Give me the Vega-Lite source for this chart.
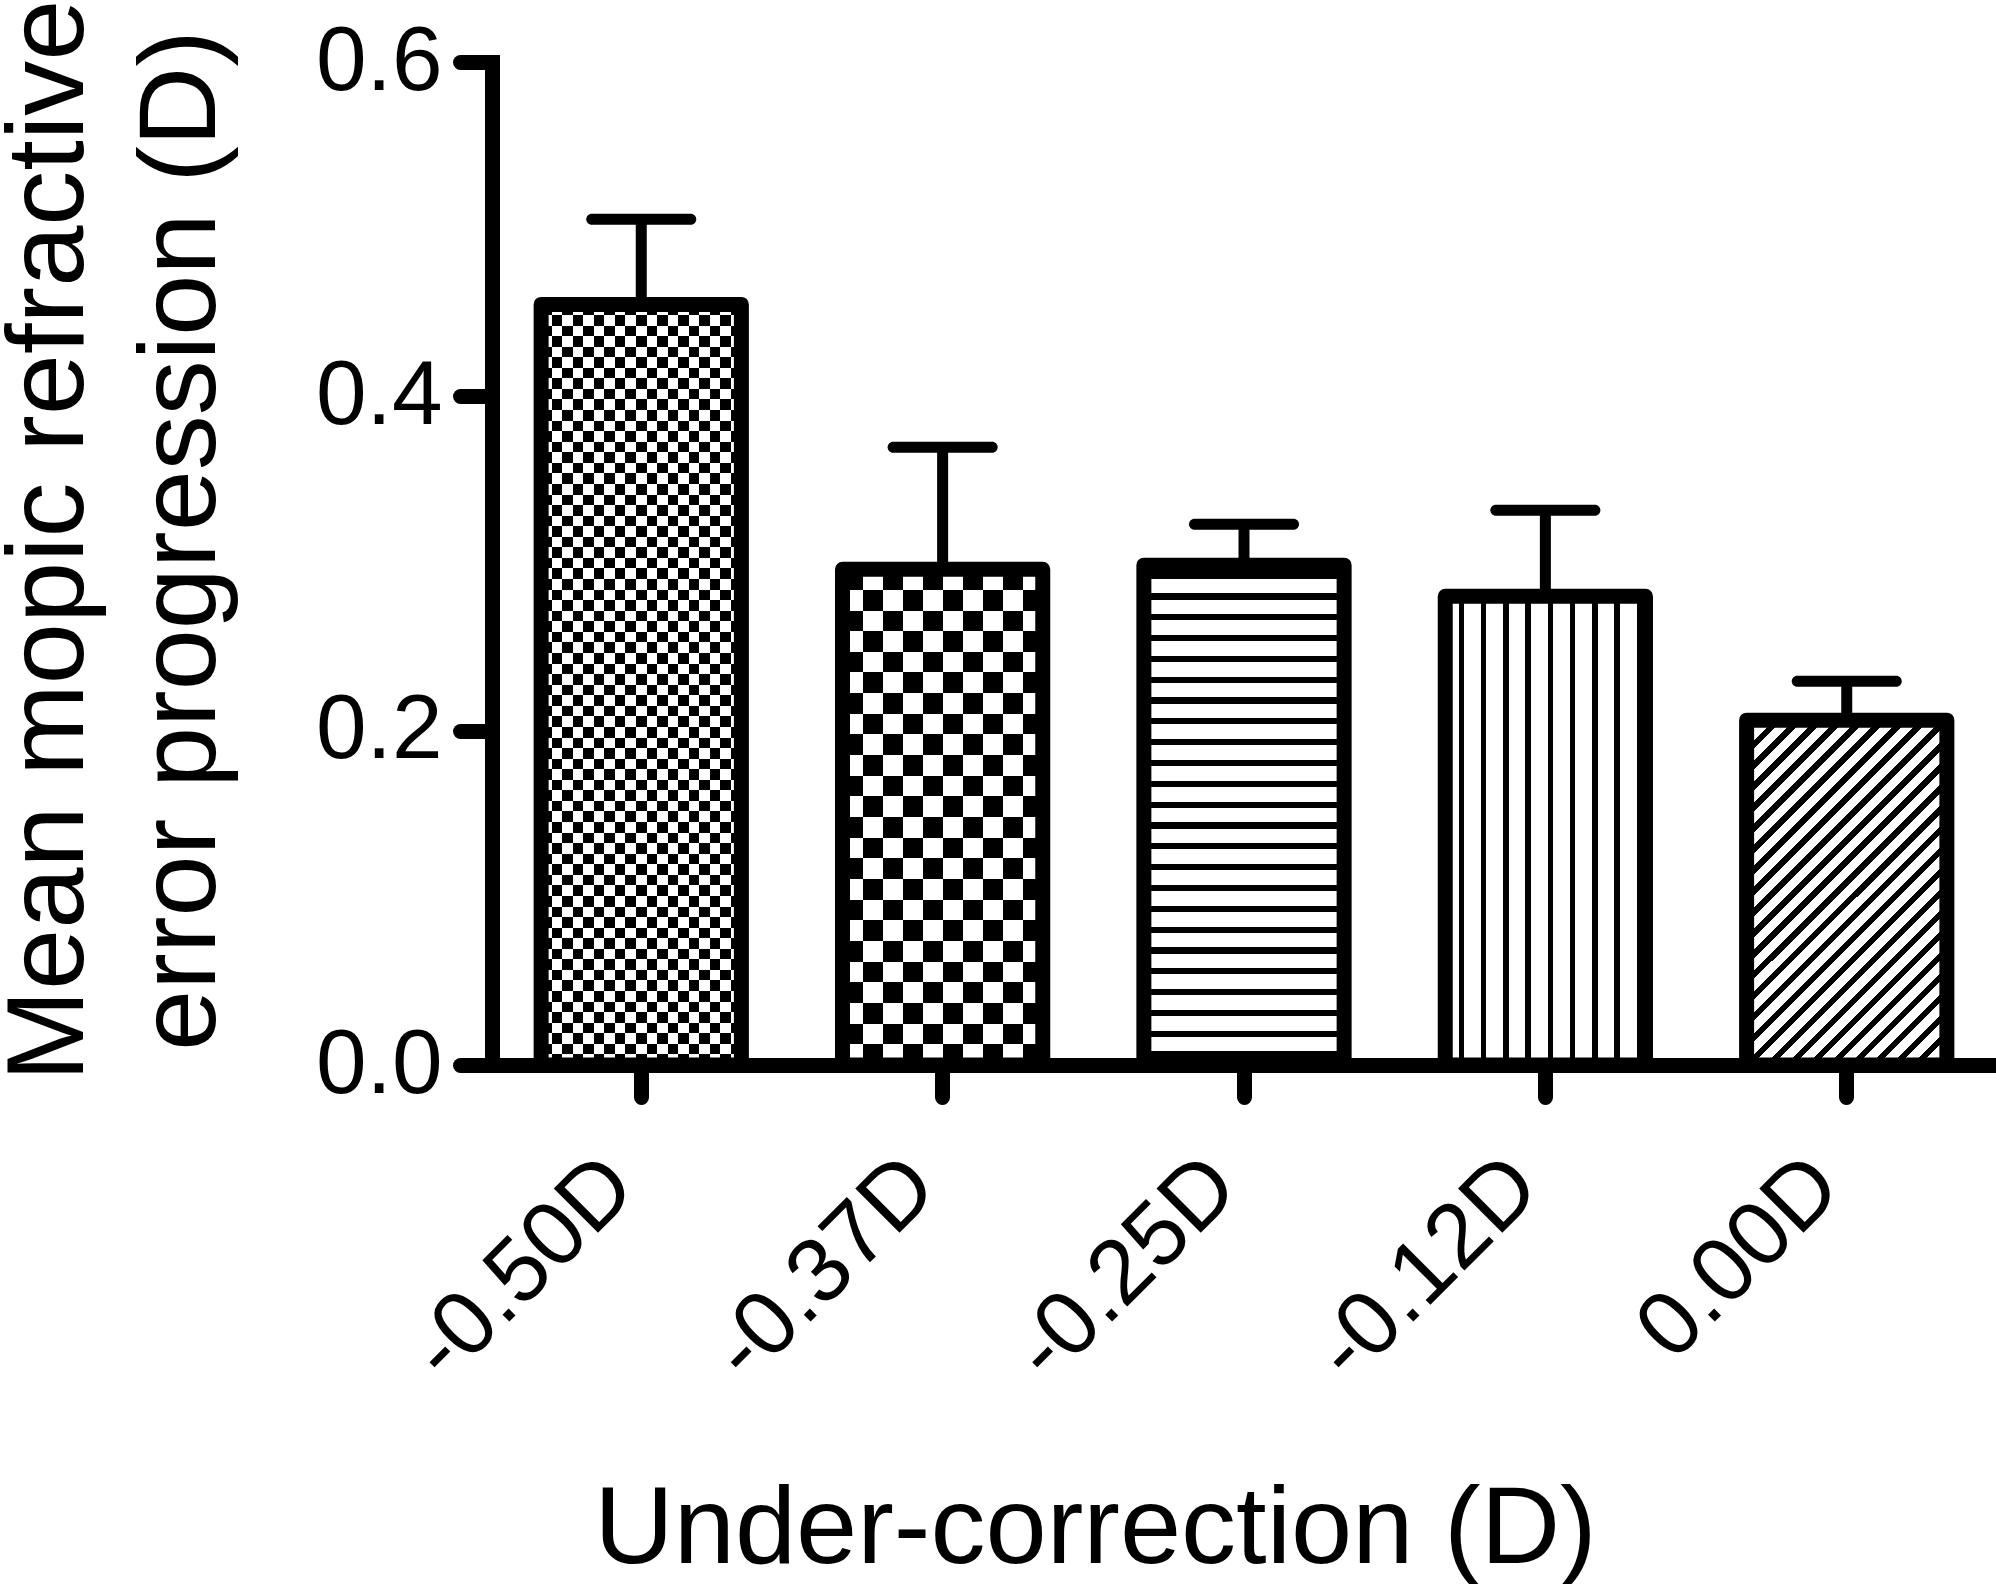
{
  "$schema": "https://vega.github.io/schema/vega-lite/v6.json",
  "width": 1504,
  "height": 1003,
  "autosize": {"type": "none"},
  "padding": {"left": 492, "top": 62, "right": 0, "bottom": 519},
  "background": "white",
  "config": {"view": {"stroke": null}, "font": "Liberation Sans"},
  "data": {
    "values": [
      {"k": "-0.50D", "mean": 0.455, "upper": 0.506},
      {"k": "-0.37D", "mean": 0.2966, "upper": 0.3695},
      {"k": "-0.25D", "mean": 0.299, "upper": 0.3235},
      {"k": "-0.12D", "mean": 0.2804, "upper": 0.3318},
      {"k": "0.00D", "mean": 0.2063, "upper": 0.2296}
    ]
  },
  "encoding": {
    "x": {
      "field": "k",
      "type": "nominal",
      "sort": null,
      "scale": {
        "domain": ["-0.50D", "-0.37D", "-0.25D", "-0.12D", "0.00D"],
        "paddingInner": 0.3355,
        "paddingOuter": 0.163
      },
      "axis": {
        "title": "Under-correction (D)",
        "labelAngle": -45,
        "labelAlign": "right",
        "labelBaseline": "middle",
        "labelOffset": -21,
        "labelPadding": 75,
        "labelLimit": 0,
        "labelOverlap": false,
        "domainColor": "black",
        "domainWidth": 15,
        "tickColor": "black",
        "tickWidth": 15,
        "tickSize": 32,
        "tickCap": "round",
        "labelFont": "Liberation Sans",
        "labelFontSize": 91,
        "labelColor": "black",
        "titleFont": "Liberation Sans",
        "titleFontSize": 110,
        "titleFontWeight": "normal",
        "titleColor": "black",
        "titleX": 603,
        "titleY": 497,
        "titleAlign": "center",
        "titleBaseline": "alphabetic"
      }
    },
    "y": {
      "field": "mean",
      "type": "quantitative",
      "scale": {"domain": [0, 0.6]},
      "axis": {
        "title": ["Mean mopic refractive", "error progression (D)"],
        "values": [0, 0.2, 0.4, 0.6],
        "format": ".1f",
        "grid": false,
        "domainColor": "black",
        "domainWidth": 15,
        "domainCap": "square",
        "tickColor": "black",
        "tickWidth": 15,
        "tickSize": 32,
        "tickCap": "round",
        "labelFont": "Liberation Sans",
        "labelFontSize": 91,
        "labelColor": "black",
        "labelPadding": 18,
        "labelFlush": false,
        "labelOverlap": false,
        "titleFont": "Liberation Sans",
        "titleFontSize": 110,
        "titleFontWeight": "normal",
        "titleColor": "black",
        "titleAngle": 270,
        "titleAlign": "center",
        "titleBaseline": "alphabetic",
        "titleX": -410,
        "titleY": 478,
        "titleLineHeight": 132,
        "titleLimit": 0
      }
    }
  },
  "layer": [
    {
      "transform": [{"filter": "datum.k === '-0.50D'"}],
      "mark": {
        "type": "bar",
        "fill": {
          "gradient": "linear", "x1": 0, "y1": 0, "x2": 0, "y2": 1,
          "stops": [
            {"offset": 0, "color": "#fff"},
            {"offset": 0.01389, "color": "#fff"}, {"offset": 0.01389, "color": "#000"},
            {"offset": 0.02778, "color": "#000"}, {"offset": 0.02778, "color": "#fff"},
            {"offset": 0.04167, "color": "#fff"}, {"offset": 0.04167, "color": "#000"},
            {"offset": 0.05556, "color": "#000"}, {"offset": 0.05556, "color": "#fff"},
            {"offset": 0.06944, "color": "#fff"}, {"offset": 0.06944, "color": "#000"},
            {"offset": 0.08333, "color": "#000"}, {"offset": 0.08333, "color": "#fff"},
            {"offset": 0.09722, "color": "#fff"}, {"offset": 0.09722, "color": "#000"},
            {"offset": 0.11111, "color": "#000"}, {"offset": 0.11111, "color": "#fff"},
            {"offset": 0.125, "color": "#fff"}, {"offset": 0.125, "color": "#000"},
            {"offset": 0.13889, "color": "#000"}, {"offset": 0.13889, "color": "#fff"},
            {"offset": 0.15278, "color": "#fff"}, {"offset": 0.15278, "color": "#000"},
            {"offset": 0.16667, "color": "#000"}, {"offset": 0.16667, "color": "#fff"},
            {"offset": 0.18056, "color": "#fff"}, {"offset": 0.18056, "color": "#000"},
            {"offset": 0.19444, "color": "#000"}, {"offset": 0.19444, "color": "#fff"},
            {"offset": 0.20833, "color": "#fff"}, {"offset": 0.20833, "color": "#000"},
            {"offset": 0.22222, "color": "#000"}, {"offset": 0.22222, "color": "#fff"},
            {"offset": 0.23611, "color": "#fff"}, {"offset": 0.23611, "color": "#000"},
            {"offset": 0.25, "color": "#000"}, {"offset": 0.25, "color": "#fff"},
            {"offset": 0.26389, "color": "#fff"}, {"offset": 0.26389, "color": "#000"},
            {"offset": 0.27778, "color": "#000"}, {"offset": 0.27778, "color": "#fff"},
            {"offset": 0.29167, "color": "#fff"}, {"offset": 0.29167, "color": "#000"},
            {"offset": 0.30556, "color": "#000"}, {"offset": 0.30556, "color": "#fff"},
            {"offset": 0.31944, "color": "#fff"}, {"offset": 0.31944, "color": "#000"},
            {"offset": 0.33333, "color": "#000"}, {"offset": 0.33333, "color": "#fff"},
            {"offset": 0.34722, "color": "#fff"}, {"offset": 0.34722, "color": "#000"},
            {"offset": 0.36111, "color": "#000"}, {"offset": 0.36111, "color": "#fff"},
            {"offset": 0.375, "color": "#fff"}, {"offset": 0.375, "color": "#000"},
            {"offset": 0.38889, "color": "#000"}, {"offset": 0.38889, "color": "#fff"},
            {"offset": 0.40278, "color": "#fff"}, {"offset": 0.40278, "color": "#000"},
            {"offset": 0.41667, "color": "#000"}, {"offset": 0.41667, "color": "#fff"},
            {"offset": 0.43056, "color": "#fff"}, {"offset": 0.43056, "color": "#000"},
            {"offset": 0.44444, "color": "#000"}, {"offset": 0.44444, "color": "#fff"},
            {"offset": 0.45833, "color": "#fff"}, {"offset": 0.45833, "color": "#000"},
            {"offset": 0.47222, "color": "#000"}, {"offset": 0.47222, "color": "#fff"},
            {"offset": 0.48611, "color": "#fff"}, {"offset": 0.48611, "color": "#000"},
            {"offset": 0.5, "color": "#000"}, {"offset": 0.5, "color": "#fff"},
            {"offset": 0.51389, "color": "#fff"}, {"offset": 0.51389, "color": "#000"},
            {"offset": 0.52778, "color": "#000"}, {"offset": 0.52778, "color": "#fff"},
            {"offset": 0.54167, "color": "#fff"}, {"offset": 0.54167, "color": "#000"},
            {"offset": 0.55556, "color": "#000"}, {"offset": 0.55556, "color": "#fff"},
            {"offset": 0.56944, "color": "#fff"}, {"offset": 0.56944, "color": "#000"},
            {"offset": 0.58333, "color": "#000"}, {"offset": 0.58333, "color": "#fff"},
            {"offset": 0.59722, "color": "#fff"}, {"offset": 0.59722, "color": "#000"},
            {"offset": 0.61111, "color": "#000"}, {"offset": 0.61111, "color": "#fff"},
            {"offset": 0.625, "color": "#fff"}, {"offset": 0.625, "color": "#000"},
            {"offset": 0.63889, "color": "#000"}, {"offset": 0.63889, "color": "#fff"},
            {"offset": 0.65278, "color": "#fff"}, {"offset": 0.65278, "color": "#000"},
            {"offset": 0.66667, "color": "#000"}, {"offset": 0.66667, "color": "#fff"},
            {"offset": 0.68056, "color": "#fff"}, {"offset": 0.68056, "color": "#000"},
            {"offset": 0.69444, "color": "#000"}, {"offset": 0.69444, "color": "#fff"},
            {"offset": 0.70833, "color": "#fff"}, {"offset": 0.70833, "color": "#000"},
            {"offset": 0.72222, "color": "#000"}, {"offset": 0.72222, "color": "#fff"},
            {"offset": 0.73611, "color": "#fff"}, {"offset": 0.73611, "color": "#000"},
            {"offset": 0.75, "color": "#000"}, {"offset": 0.75, "color": "#fff"},
            {"offset": 0.76389, "color": "#fff"}, {"offset": 0.76389, "color": "#000"},
            {"offset": 0.77778, "color": "#000"}, {"offset": 0.77778, "color": "#fff"},
            {"offset": 0.79167, "color": "#fff"}, {"offset": 0.79167, "color": "#000"},
            {"offset": 0.80556, "color": "#000"}, {"offset": 0.80556, "color": "#fff"},
            {"offset": 0.81944, "color": "#fff"}, {"offset": 0.81944, "color": "#000"},
            {"offset": 0.83333, "color": "#000"}, {"offset": 0.83333, "color": "#fff"},
            {"offset": 0.84722, "color": "#fff"}, {"offset": 0.84722, "color": "#000"},
            {"offset": 0.86111, "color": "#000"}, {"offset": 0.86111, "color": "#fff"},
            {"offset": 0.875, "color": "#fff"}, {"offset": 0.875, "color": "#000"},
            {"offset": 0.88889, "color": "#000"}, {"offset": 0.88889, "color": "#fff"},
            {"offset": 0.90278, "color": "#fff"}, {"offset": 0.90278, "color": "#000"},
            {"offset": 0.91667, "color": "#000"}, {"offset": 0.91667, "color": "#fff"},
            {"offset": 0.93056, "color": "#fff"}, {"offset": 0.93056, "color": "#000"},
            {"offset": 0.94444, "color": "#000"}, {"offset": 0.94444, "color": "#fff"},
            {"offset": 0.95833, "color": "#fff"}, {"offset": 0.95833, "color": "#000"},
            {"offset": 0.97222, "color": "#000"}, {"offset": 0.97222, "color": "#fff"},
            {"offset": 0.98611, "color": "#fff"}, {"offset": 0.98611, "color": "#000"},
            {"offset": 1, "color": "#000"}
          ]
        }
      }
    },
    {
      "transform": [{"filter": "datum.k === '-0.50D'"}],
      "mark": {
        "type": "bar",
        "blend": "difference",
        "fill": {
          "gradient": "linear", "x1": 0, "y1": 0, "x2": 1, "y2": 0,
          "stops": [
            {"offset": 0, "color": "#fff"},
            {"offset": 0.05263, "color": "#fff"}, {"offset": 0.05263, "color": "#000"},
            {"offset": 0.10526, "color": "#000"}, {"offset": 0.10526, "color": "#fff"},
            {"offset": 0.15789, "color": "#fff"}, {"offset": 0.15789, "color": "#000"},
            {"offset": 0.21053, "color": "#000"}, {"offset": 0.21053, "color": "#fff"},
            {"offset": 0.26316, "color": "#fff"}, {"offset": 0.26316, "color": "#000"},
            {"offset": 0.31579, "color": "#000"}, {"offset": 0.31579, "color": "#fff"},
            {"offset": 0.36842, "color": "#fff"}, {"offset": 0.36842, "color": "#000"},
            {"offset": 0.42105, "color": "#000"}, {"offset": 0.42105, "color": "#fff"},
            {"offset": 0.47368, "color": "#fff"}, {"offset": 0.47368, "color": "#000"},
            {"offset": 0.52632, "color": "#000"}, {"offset": 0.52632, "color": "#fff"},
            {"offset": 0.57895, "color": "#fff"}, {"offset": 0.57895, "color": "#000"},
            {"offset": 0.63158, "color": "#000"}, {"offset": 0.63158, "color": "#fff"},
            {"offset": 0.68421, "color": "#fff"}, {"offset": 0.68421, "color": "#000"},
            {"offset": 0.73684, "color": "#000"}, {"offset": 0.73684, "color": "#fff"},
            {"offset": 0.78947, "color": "#fff"}, {"offset": 0.78947, "color": "#000"},
            {"offset": 0.84211, "color": "#000"}, {"offset": 0.84211, "color": "#fff"},
            {"offset": 0.89474, "color": "#fff"}, {"offset": 0.89474, "color": "#000"},
            {"offset": 0.94737, "color": "#000"}, {"offset": 0.94737, "color": "#fff"},
            {"offset": 1, "color": "#fff"}
          ]
        }
      }
    },
    {
      "transform": [{"filter": "datum.k === '-0.37D'"}],
      "mark": {
        "type": "bar",
        "fill": {
          "gradient": "linear", "x1": 0, "y1": 0, "x2": 0, "y2": 1,
          "stops": [
            {"offset": 0, "color": "#fff"},
            {"offset": 0.04167, "color": "#fff"}, {"offset": 0.04167, "color": "#000"},
            {"offset": 0.08333, "color": "#000"}, {"offset": 0.08333, "color": "#fff"},
            {"offset": 0.125, "color": "#fff"}, {"offset": 0.125, "color": "#000"},
            {"offset": 0.16667, "color": "#000"}, {"offset": 0.16667, "color": "#fff"},
            {"offset": 0.20833, "color": "#fff"}, {"offset": 0.20833, "color": "#000"},
            {"offset": 0.25, "color": "#000"}, {"offset": 0.25, "color": "#fff"},
            {"offset": 0.29167, "color": "#fff"}, {"offset": 0.29167, "color": "#000"},
            {"offset": 0.33333, "color": "#000"}, {"offset": 0.33333, "color": "#fff"},
            {"offset": 0.375, "color": "#fff"}, {"offset": 0.375, "color": "#000"},
            {"offset": 0.41667, "color": "#000"}, {"offset": 0.41667, "color": "#fff"},
            {"offset": 0.45833, "color": "#fff"}, {"offset": 0.45833, "color": "#000"},
            {"offset": 0.5, "color": "#000"}, {"offset": 0.5, "color": "#fff"},
            {"offset": 0.54167, "color": "#fff"}, {"offset": 0.54167, "color": "#000"},
            {"offset": 0.58333, "color": "#000"}, {"offset": 0.58333, "color": "#fff"},
            {"offset": 0.625, "color": "#fff"}, {"offset": 0.625, "color": "#000"},
            {"offset": 0.66667, "color": "#000"}, {"offset": 0.66667, "color": "#fff"},
            {"offset": 0.70833, "color": "#fff"}, {"offset": 0.70833, "color": "#000"},
            {"offset": 0.75, "color": "#000"}, {"offset": 0.75, "color": "#fff"},
            {"offset": 0.79167, "color": "#fff"}, {"offset": 0.79167, "color": "#000"},
            {"offset": 0.83333, "color": "#000"}, {"offset": 0.83333, "color": "#fff"},
            {"offset": 0.875, "color": "#fff"}, {"offset": 0.875, "color": "#000"},
            {"offset": 0.91667, "color": "#000"}, {"offset": 0.91667, "color": "#fff"},
            {"offset": 0.95833, "color": "#fff"}, {"offset": 0.95833, "color": "#000"},
            {"offset": 1, "color": "#000"}
          ]
        }
      }
    },
    {
      "transform": [{"filter": "datum.k === '-0.37D'"}],
      "mark": {
        "type": "bar",
        "blend": "difference",
        "fill": {
          "gradient": "linear", "x1": 0, "y1": 0, "x2": 1, "y2": 0,
          "stops": [
            {"offset": 0, "color": "#fff"},
            {"offset": 0.1, "color": "#fff"}, {"offset": 0.1, "color": "#000"},
            {"offset": 0.2, "color": "#000"}, {"offset": 0.2, "color": "#fff"},
            {"offset": 0.3, "color": "#fff"}, {"offset": 0.3, "color": "#000"},
            {"offset": 0.4, "color": "#000"}, {"offset": 0.4, "color": "#fff"},
            {"offset": 0.5, "color": "#fff"}, {"offset": 0.5, "color": "#000"},
            {"offset": 0.6, "color": "#000"}, {"offset": 0.6, "color": "#fff"},
            {"offset": 0.7, "color": "#fff"}, {"offset": 0.7, "color": "#000"},
            {"offset": 0.8, "color": "#000"}, {"offset": 0.8, "color": "#fff"},
            {"offset": 0.9, "color": "#fff"}, {"offset": 0.9, "color": "#000"},
            {"offset": 1, "color": "#000"}
          ]
        }
      }
    },
    {
      "transform": [{"filter": "datum.k === '-0.25D'"}],
      "mark": {
        "type": "bar",
        "fill": {
          "gradient": "linear", "x1": 0, "y1": 0, "x2": 0, "y2": 1,
          "stops": [
            {"offset": 0, "color": "#fff"},
            {"offset": 0.01458, "color": "#fff"}, {"offset": 0.01458, "color": "#000"}, {"offset": 0.02708, "color": "#000"}, {"offset": 0.02708, "color": "#fff"},
            {"offset": 0.05625, "color": "#fff"}, {"offset": 0.05625, "color": "#000"}, {"offset": 0.06875, "color": "#000"}, {"offset": 0.06875, "color": "#fff"},
            {"offset": 0.09792, "color": "#fff"}, {"offset": 0.09792, "color": "#000"}, {"offset": 0.11042, "color": "#000"}, {"offset": 0.11042, "color": "#fff"},
            {"offset": 0.13958, "color": "#fff"}, {"offset": 0.13958, "color": "#000"}, {"offset": 0.15208, "color": "#000"}, {"offset": 0.15208, "color": "#fff"},
            {"offset": 0.18125, "color": "#fff"}, {"offset": 0.18125, "color": "#000"}, {"offset": 0.19375, "color": "#000"}, {"offset": 0.19375, "color": "#fff"},
            {"offset": 0.22292, "color": "#fff"}, {"offset": 0.22292, "color": "#000"}, {"offset": 0.23542, "color": "#000"}, {"offset": 0.23542, "color": "#fff"},
            {"offset": 0.26458, "color": "#fff"}, {"offset": 0.26458, "color": "#000"}, {"offset": 0.27708, "color": "#000"}, {"offset": 0.27708, "color": "#fff"},
            {"offset": 0.30625, "color": "#fff"}, {"offset": 0.30625, "color": "#000"}, {"offset": 0.31875, "color": "#000"}, {"offset": 0.31875, "color": "#fff"},
            {"offset": 0.34792, "color": "#fff"}, {"offset": 0.34792, "color": "#000"}, {"offset": 0.36042, "color": "#000"}, {"offset": 0.36042, "color": "#fff"},
            {"offset": 0.38958, "color": "#fff"}, {"offset": 0.38958, "color": "#000"}, {"offset": 0.40208, "color": "#000"}, {"offset": 0.40208, "color": "#fff"},
            {"offset": 0.43125, "color": "#fff"}, {"offset": 0.43125, "color": "#000"}, {"offset": 0.44375, "color": "#000"}, {"offset": 0.44375, "color": "#fff"},
            {"offset": 0.47292, "color": "#fff"}, {"offset": 0.47292, "color": "#000"}, {"offset": 0.48542, "color": "#000"}, {"offset": 0.48542, "color": "#fff"},
            {"offset": 0.51458, "color": "#fff"}, {"offset": 0.51458, "color": "#000"}, {"offset": 0.52708, "color": "#000"}, {"offset": 0.52708, "color": "#fff"},
            {"offset": 0.55625, "color": "#fff"}, {"offset": 0.55625, "color": "#000"}, {"offset": 0.56875, "color": "#000"}, {"offset": 0.56875, "color": "#fff"},
            {"offset": 0.59792, "color": "#fff"}, {"offset": 0.59792, "color": "#000"}, {"offset": 0.61042, "color": "#000"}, {"offset": 0.61042, "color": "#fff"},
            {"offset": 0.63958, "color": "#fff"}, {"offset": 0.63958, "color": "#000"}, {"offset": 0.65208, "color": "#000"}, {"offset": 0.65208, "color": "#fff"},
            {"offset": 0.68125, "color": "#fff"}, {"offset": 0.68125, "color": "#000"}, {"offset": 0.69375, "color": "#000"}, {"offset": 0.69375, "color": "#fff"},
            {"offset": 0.72292, "color": "#fff"}, {"offset": 0.72292, "color": "#000"}, {"offset": 0.73542, "color": "#000"}, {"offset": 0.73542, "color": "#fff"},
            {"offset": 0.76458, "color": "#fff"}, {"offset": 0.76458, "color": "#000"}, {"offset": 0.77708, "color": "#000"}, {"offset": 0.77708, "color": "#fff"},
            {"offset": 0.80625, "color": "#fff"}, {"offset": 0.80625, "color": "#000"}, {"offset": 0.81875, "color": "#000"}, {"offset": 0.81875, "color": "#fff"},
            {"offset": 0.84792, "color": "#fff"}, {"offset": 0.84792, "color": "#000"}, {"offset": 0.86042, "color": "#000"}, {"offset": 0.86042, "color": "#fff"},
            {"offset": 0.88958, "color": "#fff"}, {"offset": 0.88958, "color": "#000"}, {"offset": 0.90208, "color": "#000"}, {"offset": 0.90208, "color": "#fff"},
            {"offset": 0.93125, "color": "#fff"}, {"offset": 0.93125, "color": "#000"}, {"offset": 0.94375, "color": "#000"}, {"offset": 0.94375, "color": "#fff"},
            {"offset": 0.97292, "color": "#fff"}, {"offset": 0.97292, "color": "#000"}, {"offset": 0.98542, "color": "#000"}, {"offset": 0.98542, "color": "#fff"},
            {"offset": 1, "color": "#fff"}
          ]
        }
      }
    },
    {
      "transform": [{"filter": "datum.k === '-0.12D'"}],
      "mark": {
        "type": "bar",
        "fill": {
          "gradient": "linear", "x1": 0, "y1": 0, "x2": 1, "y2": 0,
          "stops": [
            {"offset": 0, "color": "#fff"},
            {"offset": 0.06667, "color": "#fff"}, {"offset": 0.06667, "color": "#000"}, {"offset": 0.09444, "color": "#000"}, {"offset": 0.09444, "color": "#fff"},
            {"offset": 0.17778, "color": "#fff"}, {"offset": 0.17778, "color": "#000"}, {"offset": 0.20556, "color": "#000"}, {"offset": 0.20556, "color": "#fff"},
            {"offset": 0.28889, "color": "#fff"}, {"offset": 0.28889, "color": "#000"}, {"offset": 0.31667, "color": "#000"}, {"offset": 0.31667, "color": "#fff"},
            {"offset": 0.4, "color": "#fff"}, {"offset": 0.4, "color": "#000"}, {"offset": 0.42778, "color": "#000"}, {"offset": 0.42778, "color": "#fff"},
            {"offset": 0.51111, "color": "#fff"}, {"offset": 0.51111, "color": "#000"}, {"offset": 0.53889, "color": "#000"}, {"offset": 0.53889, "color": "#fff"},
            {"offset": 0.62222, "color": "#fff"}, {"offset": 0.62222, "color": "#000"}, {"offset": 0.65, "color": "#000"}, {"offset": 0.65, "color": "#fff"},
            {"offset": 0.73333, "color": "#fff"}, {"offset": 0.73333, "color": "#000"}, {"offset": 0.76111, "color": "#000"}, {"offset": 0.76111, "color": "#fff"},
            {"offset": 0.84444, "color": "#fff"}, {"offset": 0.84444, "color": "#000"}, {"offset": 0.87222, "color": "#000"}, {"offset": 0.87222, "color": "#fff"},
            {"offset": 0.95556, "color": "#fff"}, {"offset": 0.95556, "color": "#000"}, {"offset": 0.98333, "color": "#000"}, {"offset": 0.98333, "color": "#fff"},
            {"offset": 1, "color": "#fff"}
          ]
        }
      }
    },
    {
      "transform": [{"filter": "datum.k === '0.00D'"}],
      "mark": {
        "type": "bar",
        "fill": {
          "gradient": "linear", "x1": 0, "y1": 0, "x2": 0.6862, "y2": 1.1822,
          "stops": [
            {"offset": 0, "color": "#fff"},
            {"offset": 0.01154, "color": "#fff"}, {"offset": 0.01154, "color": "#000"}, {"offset": 0.02692, "color": "#000"}, {"offset": 0.02692, "color": "#fff"},
            {"offset": 0.05, "color": "#fff"}, {"offset": 0.05, "color": "#000"}, {"offset": 0.06538, "color": "#000"}, {"offset": 0.06538, "color": "#fff"},
            {"offset": 0.08846, "color": "#fff"}, {"offset": 0.08846, "color": "#000"}, {"offset": 0.10385, "color": "#000"}, {"offset": 0.10385, "color": "#fff"},
            {"offset": 0.12692, "color": "#fff"}, {"offset": 0.12692, "color": "#000"}, {"offset": 0.14231, "color": "#000"}, {"offset": 0.14231, "color": "#fff"},
            {"offset": 0.16538, "color": "#fff"}, {"offset": 0.16538, "color": "#000"}, {"offset": 0.18077, "color": "#000"}, {"offset": 0.18077, "color": "#fff"},
            {"offset": 0.20385, "color": "#fff"}, {"offset": 0.20385, "color": "#000"}, {"offset": 0.21923, "color": "#000"}, {"offset": 0.21923, "color": "#fff"},
            {"offset": 0.24231, "color": "#fff"}, {"offset": 0.24231, "color": "#000"}, {"offset": 0.25769, "color": "#000"}, {"offset": 0.25769, "color": "#fff"},
            {"offset": 0.28077, "color": "#fff"}, {"offset": 0.28077, "color": "#000"}, {"offset": 0.29615, "color": "#000"}, {"offset": 0.29615, "color": "#fff"},
            {"offset": 0.31923, "color": "#fff"}, {"offset": 0.31923, "color": "#000"}, {"offset": 0.33462, "color": "#000"}, {"offset": 0.33462, "color": "#fff"},
            {"offset": 0.35769, "color": "#fff"}, {"offset": 0.35769, "color": "#000"}, {"offset": 0.37308, "color": "#000"}, {"offset": 0.37308, "color": "#fff"},
            {"offset": 0.39615, "color": "#fff"}, {"offset": 0.39615, "color": "#000"}, {"offset": 0.41154, "color": "#000"}, {"offset": 0.41154, "color": "#fff"},
            {"offset": 0.43462, "color": "#fff"}, {"offset": 0.43462, "color": "#000"}, {"offset": 0.45, "color": "#000"}, {"offset": 0.45, "color": "#fff"},
            {"offset": 0.47308, "color": "#fff"}, {"offset": 0.47308, "color": "#000"}, {"offset": 0.48846, "color": "#000"}, {"offset": 0.48846, "color": "#fff"},
            {"offset": 0.51154, "color": "#fff"}, {"offset": 0.51154, "color": "#000"}, {"offset": 0.52692, "color": "#000"}, {"offset": 0.52692, "color": "#fff"},
            {"offset": 0.55, "color": "#fff"}, {"offset": 0.55, "color": "#000"}, {"offset": 0.56538, "color": "#000"}, {"offset": 0.56538, "color": "#fff"},
            {"offset": 0.58846, "color": "#fff"}, {"offset": 0.58846, "color": "#000"}, {"offset": 0.60385, "color": "#000"}, {"offset": 0.60385, "color": "#fff"},
            {"offset": 0.62692, "color": "#fff"}, {"offset": 0.62692, "color": "#000"}, {"offset": 0.64231, "color": "#000"}, {"offset": 0.64231, "color": "#fff"},
            {"offset": 0.66538, "color": "#fff"}, {"offset": 0.66538, "color": "#000"}, {"offset": 0.68077, "color": "#000"}, {"offset": 0.68077, "color": "#fff"},
            {"offset": 0.70385, "color": "#fff"}, {"offset": 0.70385, "color": "#000"}, {"offset": 0.71923, "color": "#000"}, {"offset": 0.71923, "color": "#fff"},
            {"offset": 0.74231, "color": "#fff"}, {"offset": 0.74231, "color": "#000"}, {"offset": 0.75769, "color": "#000"}, {"offset": 0.75769, "color": "#fff"},
            {"offset": 0.78077, "color": "#fff"}, {"offset": 0.78077, "color": "#000"}, {"offset": 0.79615, "color": "#000"}, {"offset": 0.79615, "color": "#fff"},
            {"offset": 0.81923, "color": "#fff"}, {"offset": 0.81923, "color": "#000"}, {"offset": 0.83462, "color": "#000"}, {"offset": 0.83462, "color": "#fff"},
            {"offset": 0.85769, "color": "#fff"}, {"offset": 0.85769, "color": "#000"}, {"offset": 0.87308, "color": "#000"}, {"offset": 0.87308, "color": "#fff"},
            {"offset": 0.89615, "color": "#fff"}, {"offset": 0.89615, "color": "#000"}, {"offset": 0.91154, "color": "#000"}, {"offset": 0.91154, "color": "#fff"},
            {"offset": 0.93462, "color": "#fff"}, {"offset": 0.93462, "color": "#000"}, {"offset": 0.95, "color": "#000"}, {"offset": 0.95, "color": "#fff"},
            {"offset": 0.97308, "color": "#fff"}, {"offset": 0.97308, "color": "#000"}, {"offset": 0.98846, "color": "#000"}, {"offset": 0.98846, "color": "#fff"},
            {"offset": 1, "color": "#fff"}
          ]
        }
      }
    },
    {
      "mark": {"type": "bar", "fill": "white", "fillOpacity": 0, "stroke": "black", "strokeWidth": 15, "strokeJoin": "round"}
    },
    {
      "mark": {"type": "rule", "color": "black", "strokeWidth": 11},
      "encoding": {
        "y": {"field": "mean", "type": "quantitative"},
        "y2": {"field": "upper"}
      }
    },
    {
      "mark": {"type": "tick", "color": "black", "opacity": 1, "thickness": 11, "cornerRadius": 5.5, "orient": "horizontal"},
      "encoding": {
        "y": {"field": "upper", "type": "quantitative"},
        "size": {"value": 110}
      }
    }
  ]
}
